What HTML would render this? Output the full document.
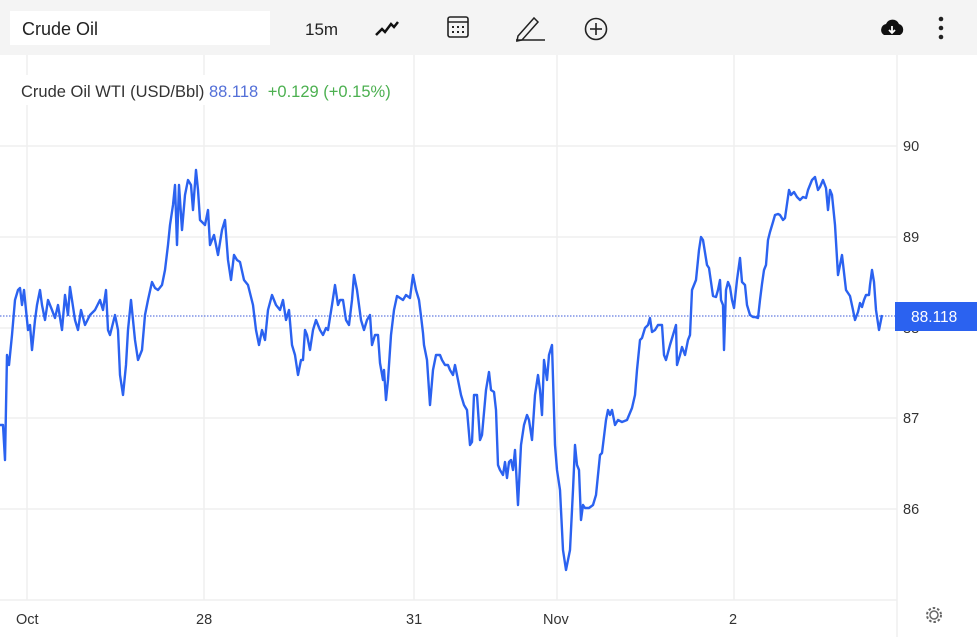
<!DOCTYPE html>
<html><head><meta charset="utf-8"><style>
body{margin:0;width:977px;height:637px;overflow:hidden;background:#fff;font-family:"Liberation Sans",sans-serif;}
.tb{position:absolute;left:0;top:0;width:977px;height:55px;background:#f4f4f4;}
.sb{position:absolute;left:10px;top:11px;width:260px;height:34px;background:#fff;font-size:18px;line-height:36px;padding-left:12px;box-sizing:border-box;color:#222;}
</style></head><body>
<div class="tb"></div>
<div class="sb">Crude Oil</div>
<svg width="977" height="637" style="position:absolute;left:0;top:0" xmlns="http://www.w3.org/2000/svg">
<text x="305" y="35" font-size="17" fill="#222" font-family="Liberation Sans">15m</text>
<polyline points="376,35 382,29 385,32 391,24 394,27 398,22" fill="none" stroke="#111" stroke-width="2.5"/>
<rect x="448" y="17" width="20" height="20" rx="2" fill="none" stroke="#222" stroke-width="1.6"/>
<line x1="448" y1="22" x2="468" y2="22" stroke="#222" stroke-width="1.6"/>
<g fill="#222"><rect x="452" y="26" width="2" height="2"/><rect x="457" y="26" width="2" height="2"/><rect x="462" y="26" width="2" height="2"/><rect x="452" y="31" width="2" height="2"/><rect x="457" y="31" width="2" height="2"/><rect x="462" y="31" width="2" height="2"/></g>
<path d="M518,36 L534,18 L538,22 L522,40 L517,41 Z" fill="none" stroke="#222" stroke-width="1.5"/>
<line x1="516" y1="40" x2="545" y2="40" stroke="#222" stroke-width="1.5"/>
<circle cx="596" cy="29" r="10.5" fill="none" stroke="#222" stroke-width="1.6"/>
<line x1="590" y1="29" x2="602" y2="29" stroke="#222" stroke-width="1.6"/><line x1="596" y1="23" x2="596" y2="35" stroke="#222" stroke-width="1.6"/>
<path d="M884,35 a6,6 0 0 1 2,-11 a7,7 0 0 1 13,0 a6,6 0 0 1 1,11 Z" fill="#111"/>
<path d="M892,26 v6 M889,30 l3,3 l3,-3" stroke="#fff" stroke-width="1.8" fill="none"/>
<circle cx="941" cy="19" r="2.3" fill="#222"/><circle cx="941" cy="28" r="2.3" fill="#222"/><circle cx="941" cy="37" r="2.3" fill="#222"/>
<g stroke="#efefef" stroke-width="1.5">
<line x1="0" y1="146" x2="897" y2="146"/><line x1="0" y1="237" x2="897" y2="237"/><line x1="0" y1="328" x2="897" y2="328"/><line x1="0" y1="418" x2="897" y2="418"/><line x1="0" y1="509" x2="897" y2="509"/>
<line x1="27" y1="55" x2="27" y2="600"/><line x1="204" y1="55" x2="204" y2="600"/><line x1="414" y1="55" x2="414" y2="600"/><line x1="557" y1="55" x2="557" y2="600"/><line x1="734" y1="55" x2="734" y2="600"/>
<line x1="0" y1="600" x2="897" y2="600"/><line x1="897" y1="55" x2="897" y2="637"/>
</g>
<rect x="12" y="75" width="400" height="30" fill="#fff"/>
<text x="21" y="97" font-size="16.5" fill="#333">Crude Oil WTI (USD/Bbl) <tspan fill="#5470d8">88.118</tspan> <tspan fill="#4cb050" dx="5">+0.129 (+0.15%)</tspan></text>
<line x1="0" y1="316" x2="897" y2="316" stroke="#3d5bd9" stroke-width="1" stroke-dasharray="1.5,1.5"/>
<polyline fill="none" stroke="#2b62f0" stroke-width="2.4" stroke-linejoin="round" points="0,425 3,425 5,460 7,355 9,365 12,335 15,300 18,290 20,288 22,305 24,290 26,310 28,330 30,325 32,350 35,320 37,305 40,290 42,305 45,320 48,300 52,310 55,318 58,305 62,330 65,295 68,315 70,287 72,300 75,320 78,330 81,310 85,325 90,315 95,310 100,300 103,310 106,290 108,330 110,335 115,315 118,330 120,375 123,395 126,365 128,330 131,300 135,340 138,360 142,350 145,315 148,300 152,282 155,288 158,290 162,285 165,270 168,245 170,225 173,205 175,185 177,245 179,185 182,230 185,195 188,180 191,185 193,210 196,170 198,190 200,220 205,225 208,210 210,245 214,235 218,255 222,230 225,220 228,260 231,280 234,255 237,260 240,262 244,280 248,285 253,305 256,330 259,345 262,330 265,340 268,310 272,295 276,305 280,310 283,300 286,320 289,310 292,345 295,355 298,375 301,360 303,360 305,330 307,335 310,350 313,330 316,320 320,330 323,335 326,328 328,330 332,305 335,285 338,305 340,300 343,300 346,320 349,325 352,300 354,275 357,290 361,320 364,330 367,320 370,315 372,345 375,335 378,335 380,363 383,380 384,370 386,400 388,380 391,335 394,310 397,296 400,298 403,300 406,295 410,298 413,275 416,290 419,300 421,316 423,333 424,345 427,360 430,405 433,370 436,355 440,355 442,360 445,365 448,365 450,370 453,375 455,365 459,385 461,395 464,405 467,410 470,445 472,442 474,395 477,395 480,440 482,435 486,390 489,372 491,390 494,392 496,410 498,465 500,470 503,475 505,462 507,478 509,462 511,460 513,470 515,450 518,505 521,445 524,425 527,415 529,420 532,440 535,395 538,375 540,390 542,415 544,360 547,380 549,355 552,345 555,445 557,470 560,490 563,550 566,570 568,560 570,550 573,490 575,445 577,465 579,470 581,520 583,505 585,508 589,508 593,505 596,495 598,475 600,455 602,453 606,420 608,410 610,415 612,410 615,425 618,420 622,422 627,420 632,408 635,395 637,370 640,340 642,338 645,328 648,325 650,318 652,332 655,330 658,325 662,325 664,355 666,360 670,345 673,335 676,325 677,365 680,355 682,347 685,355 688,340 690,335 692,290 694,285 696,280 699,250 701,237 703,240 707,265 709,268 713,296 716,297 718,290 720,280 721,300 723,305 724,350 726,290 728,282 730,287 732,300 734,308 737,280 740,258 742,282 745,285 747,305 750,315 753,317 755,317 758,318 760,300 762,284 764,270 766,265 768,240 770,232 773,222 775,215 778,214 780,215 783,220 785,218 789,190 791,195 794,192 797,197 800,200 803,197 806,198 808,190 812,180 815,177 818,190 820,187 823,180 826,188 828,210 830,190 832,195 835,225 838,275 842,255 846,290 850,296 853,310 855,320 858,312 860,303 862,307 864,300 866,295 869,295 870,285 872,270 874,282 876,310 879,330 882,315"/>
<g font-size="14.5" fill="#333">
<text x="903" y="151">90</text><text x="903" y="242">89</text><text x="903" y="333">88</text><text x="903" y="423">87</text><text x="903" y="514">86</text>
<text x="16" y="624">Oct</text><text x="196" y="624">28</text><text x="406" y="624">31</text><text x="543" y="624">Nov</text><text x="729" y="624">2</text>
</g>
<rect x="895" y="302" width="82" height="29" fill="#2b62f0"/>
<text x="911" y="322" font-size="15.5" fill="#fff">88.118</text>
<circle cx="934" cy="615" r="4" fill="none" stroke="#666" stroke-width="1.5"/>
<circle cx="934" cy="615" r="7" fill="none" stroke="#666" stroke-width="2" stroke-dasharray="2.5,2"/>
</svg>
</body></html>
